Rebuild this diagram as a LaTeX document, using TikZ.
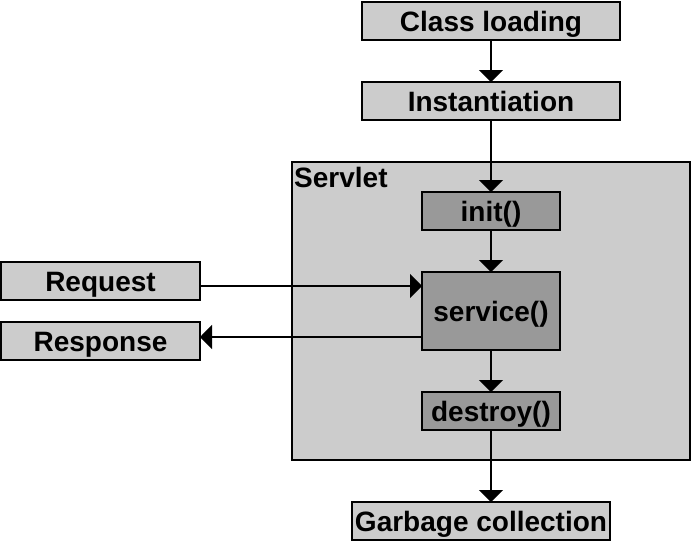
\documentclass[tikz,border=0pt]{standalone}
\usepackage{fontspec}
\setmainfont{Liberation Sans}
\usetikzlibrary{arrows.meta}
\definecolor{lightbox}{HTML}{CCCCCC}
\definecolor{darkbox}{HTML}{999999}
\begin{document}
\begin{tikzpicture}[x=1pt,y=-1pt,
  box/.style={draw=black,line width=2pt,fill=lightbox,inner sep=0pt,outer sep=0pt,
    text height=20pt,text depth=0pt,
    font=\fontsize{28}{30}\selectfont\bfseries},
  dbox/.style={box,fill=darkbox},
  arr/.style={line width=2pt,-{Triangle[length=12pt,width=24pt]}}]
\useasboundingbox (0,0) rectangle (692,542);
\node[box,minimum width=398pt,minimum height=298pt] (servlet) at (491,311) {};
\node[anchor=north west,font=\fontsize{28}{30}\selectfont\bfseries,inner sep=0pt] (slabel) at (294,167) {Servlet};
\node[box,minimum width=258pt,minimum height=38pt] (cl) at (491,21) {Class loading};
\node[box,minimum width=258pt,minimum height=38pt] (inst) at (491,101) {Instantiation};
\node[dbox,minimum width=138pt,minimum height=38pt] (init) at (491,211) {init()};
\node[dbox,minimum width=138pt,minimum height=78pt] (srv) at (491,311) {service()};
\node[dbox,minimum width=138pt,minimum height=38pt] (destroy) at (491,411) {destroy()};
\node[box,minimum width=199pt,minimum height=38pt] (req) at (100.5,281) {Request};
\node[box,minimum width=199pt,minimum height=38pt] (resp) at (100.5,341) {Response};
\node[box,minimum width=258pt,minimum height=38pt] (gc) at (481,521) {Garbage collection};
\draw[arr] (cl.south) -- (inst.north);
\draw[arr] (inst.south) -- (init.north);
\draw[arr] (init.south) -- (srv.north);
\draw[arr] (srv.south) -- (destroy.north);
\draw[arr] (destroy.south) -- (destroy.south |- gc.north);
\draw[arr] ([yshift=-5pt]req.east) -- ([yshift=-5pt]req.east -| srv.west);
\draw[arr] ([yshift=4pt]resp.east -| srv.west) -- ([yshift=4pt]resp.east);
\end{tikzpicture}
\end{document}
